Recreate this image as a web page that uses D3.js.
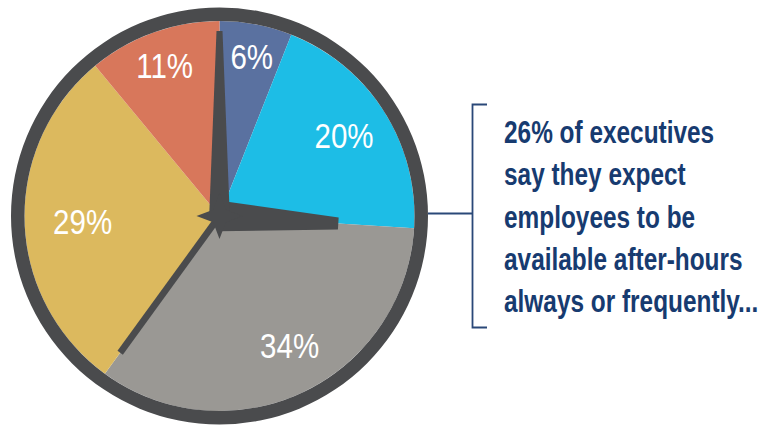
<!DOCTYPE html>
<html>
<head>
<meta charset="utf-8">
<script src="https://cdn.jsdelivr.net/npm/d3@7"></script>
<style>
  html, body { margin: 0; padding: 0; background: #ffffff; }
  svg { display: block; }
</style>
</head>
<body>
<svg id="chart" width="761" height="428"></svg>
<script>
// Survey answers, in clockwise order from 12 o'clock
const categories = ["Always", "Frequently", "Sometimes", "Rarely", "Never"];
const shares = [6, 20, 34, 29, 11];
const sliceLabels = ["6%", "20%", "34%", "29%", "11%"];
const sliceColors = ["#5a71a0", "#1dbde6", "#9a9894", "#dcb95e", "#d8775b"];
const noteLines = [
  "26% of executives",
  "say they expect",
  "employees to be",
  "available after-hours",
  "always or frequently..."
];

const svg = d3.select("#chart");
const cx = 219.5, cy = 216;
const rPie = 195, rRing = 208.5;
const dark = "#4a4b4d";
const navy = "#173b70";
// Liberation Sans squeezed horizontally stands in for a condensed grotesque
const textFont = "'Liberation Sans', Arial, sans-serif";
const squeeze = 0.82;
const noteSqueeze = 0.8;

const pie = d3.pie().sort(null).value(d => d).startAngle(0).endAngle(2 * Math.PI);
const arcs = pie(shares);
const arc = d3.arc().innerRadius(0).outerRadius(rPie);

const g = svg.append("g").attr("transform", `translate(${cx},${cy})`);

// slices
g.selectAll("path.slice")
  .data(arcs)
  .join("path")
  .attr("class", "slice")
  .attr("d", arc)
  .attr("fill", (d, i) => sliceColors[i]);

// clock rim
g.append("path")
  .attr("d", d3.arc().innerRadius(rPie).outerRadius(rRing).startAngle(0).endAngle(2 * Math.PI)())
  .attr("fill", dark);

// label placement: radius and small angular nudge per slice
const labelRadius = [163, 148.5, 147, 137, 160.5];
const labelNudge = [0.6, -0.6, -3.3, -0.3, -0.2];
const deg = 180 / Math.PI;
g.selectAll("text.pct")
  .data(arcs)
  .join("text")
  .attr("class", "pct")
  .attr("text-anchor", "middle")
  .attr("font-family", textFont)
  .attr("font-size", 36)
  .attr("fill", "#ffffff")
  .attr("transform", (d, i) => {
    const a = (d.startAngle + d.endAngle) / 2 + labelNudge[i] / deg;
    const x = Math.sin(a) * labelRadius[i];
    const y = -Math.cos(a) * labelRadius[i];
    return `translate(${x},${y + 12.8}) scale(${squeeze},1)`;
  })
  .text((d, i) => sliceLabels[i]);

// clock hands sit on the slice boundaries
function hand(angle, baseHalf, tipHalf, len, tail) {
  const pts = [[-baseHalf, tail], [-tipHalf, -len], [tipHalf, -len], [baseHalf, tail]];
  g.append("path")
    .attr("d", d3.line()(pts) + "Z")
    .attr("fill", dark)
    .attr("transform", `rotate(${angle * deg})`);
}
hand(arcs[3].startAngle, 3.3, 3.3, 169, 0);      // second hand
hand(arcs[2].startAngle, 15.2, 6, 119, 0);       // hour hand
hand(arcs[0].startAngle, 10.3, 3, 185, 0);       // minute hand

// centre hub: four-point star
const star = [];
for (let k = 0; k < 8; k++) {
  const r = k % 2 === 0 ? 23 : 9;
  const a = k * Math.PI / 4;
  star.push([Math.sin(a) * r, -Math.cos(a) * r]);
}
g.append("path").attr("d", d3.line()(star) + "Z").attr("fill", dark);

// bracket and callout
const bracket = svg.append("g")
  .attr("fill", "none")
  .attr("stroke", "#2a4878")
  .attr("stroke-width", 1.8);
bracket.append("path").attr("d", d3.line()([[cx + rRing, 213.5], [472.5, 213.5]]));
bracket.append("path").attr("d", d3.line()([[487, 104.5], [472.5, 104.5], [472.5, 327.5], [487, 327.5]]));

svg.append("g")
  .selectAll("text")
  .data(noteLines)
  .join("text")
  .attr("transform", (d, i) => `translate(504,${143.3 + i * 42.1}) scale(${noteSqueeze},1)`)
  .attr("font-family", textFont)
  .attr("font-weight", "bold")
  .attr("font-size", 30.5)
  .attr("fill", navy)
  .text(d => d);
</script>
</body>
</html>
